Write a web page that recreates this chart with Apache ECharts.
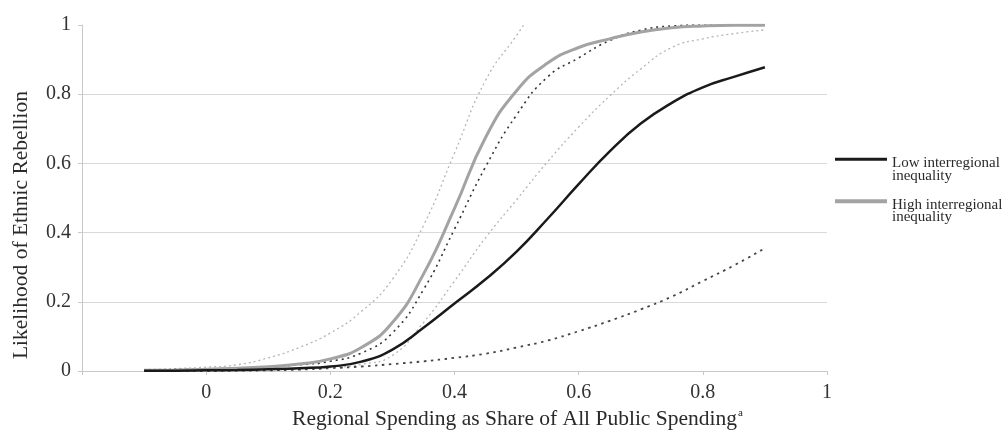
<!DOCTYPE html>
<html>
<head>
<meta charset="utf-8">
<script src="https://cdn.jsdelivr.net/npm/echarts@6/dist/echarts.min.js"></script>
<style>
html,body{margin:0;padding:0;background:#fff;}
#chart{width:1008px;height:435px;}
</style>
</head>
<body>
<div id="chart"></div>
<script>
// Regional spending share (x values)
var xs = [-0.1, -0.05, 0, 0.05, 0.1, 0.15, 0.2, 0.25, 0.3, 0.35, 0.4, 0.45, 0.5, 0.55, 0.6, 0.65, 0.7, 0.75, 0.8, 0.85, 0.9];
// Low interregional inequality: estimate and CI bounds
var lowEst   = [0.001, 0.001, 0.002, 0.003, 0.005, 0.008, 0.013, 0.027, 0.062, 0.125, 0.195, 0.265, 0.345, 0.44, 0.54, 0.635, 0.715, 0.775, 0.82, 0.85, 0.878];
var lowUpper = [0.003, 0.004, 0.006, 0.008, 0.012, 0.018, 0.028, 0.052, 0.11, 0.235, 0.41, 0.59, 0.74, 0.85, 0.905, 0.955, 0.985, 0.997, 1.0, 1.0, 1.0];
var lowLower = [0.0, 0.0, 0.0, 0.001, 0.002, 0.004, 0.008, 0.013, 0.02, 0.028, 0.038, 0.05, 0.068, 0.088, 0.115, 0.145, 0.178, 0.215, 0.26, 0.305, 0.355];
// High interregional inequality: estimate and CI bounds
var highEst   = [0.002, 0.003, 0.005, 0.008, 0.012, 0.02, 0.035, 0.068, 0.14, 0.28, 0.47, 0.675, 0.81, 0.89, 0.935, 0.96, 0.98, 0.992, 0.997, 0.999, 0.999];
var highUpper = [0.004, 0.007, 0.011, 0.018, 0.038, 0.068, 0.11, 0.172, 0.265, 0.42, 0.63, 0.84, 0.97, 1.1, null, null, null, null, null, null, null];
var highLower = [0.0, 0.0, 0.001, 0.002, 0.004, 0.006, 0.01, 0.019, 0.045, 0.14, 0.26, 0.385, 0.495, 0.605, 0.705, 0.795, 0.873, 0.935, 0.96, 0.975, 0.986];
// Axis ticks
var xTicks = { min: -0.2, max: 1, interval: 0.2 };
var yTicks = { min: 0, max: 1, interval: 0.2 };
var legendNames = ['Low interregional\ninequality', 'High interregional\ninequality'];

function pairs(ys) {
  var out = [];
  for (var i = 0; i < xs.length; i++) {
    if (ys[i] !== null) out.push([xs[i], ys[i]]);
  }
  return out;
}

var serif = '"Liberation Serif", "DejaVu Serif", serif';
var grid = '#d9d9d9';
var chart = echarts.init(document.getElementById('chart'));
chart.setOption({
  animation: false,
  backgroundColor: '#fff',
  grid: { left: 82, right: 181, top: 25, bottom: 64, containLabel: false },
  legend: {
    data: [
      { name: legendNames[0], icon: 'path://M0,0L52,0L52,3L0,3Z M0,24L0.01,24' },
      { name: legendNames[1], icon: 'path://M0,0L52,0L52,4L0,4Z M0,24L0.01,24' }
    ],
    orient: 'vertical',
    left: 830,
    top: 151,
    itemWidth: 52,
    itemHeight: 24,
    itemGap: 14,
    textStyle: { fontFamily: serif, fontSize: 15, lineHeight: 12.5, color: '#2a2a2a' },
    selectedMode: false
  },
  xAxis: {
    type: 'value',
    min: xTicks.min, max: xTicks.max, interval: xTicks.interval,
    name: 'Regional Spending as Share of All Public Spending{sup|a}',
    nameLocation: 'middle',
    nameGap: 27,
    nameTextStyle: {
      fontFamily: serif, fontSize: 21.5, color: '#2a2a2a', padding: [0, 0, 0, 126],
      rich: { sup: { fontFamily: serif, fontSize: 11, verticalAlign: 'top', padding: [0, 0, 9, 1], color: '#2a2a2a' } }
    },
    axisLine: { show: true, lineStyle: { color: '#c8c8c8', width: 1 } },
    axisTick: { show: true, length: 4, lineStyle: { color: '#c8c8c8' } },
    splitLine: { show: false },
    axisLabel: {
      fontFamily: serif, fontSize: 20, color: '#333', margin: 12,
      formatter: function (v) { return v < -0.05 ? '' : String(+v.toFixed(1)); }
    }
  },
  yAxis: {
    type: 'value',
    min: yTicks.min, max: yTicks.max, interval: yTicks.interval,
    name: 'Likelihood of Ethnic Rebellion',
    nameLocation: 'middle',
    nameGap: 50,
    nameTextStyle: { fontFamily: serif, fontSize: 21.5, color: '#2a2a2a', padding: [0, 54, 0, 0] },
    axisLine: { show: true, onZero: false, lineStyle: { color: '#c8c8c8', width: 1 } },
    axisTick: { show: true, length: 4, lineStyle: { color: '#c8c8c8' } },
    splitLine: { show: true, lineStyle: { color: [grid, grid, grid, grid, grid, 'rgba(0,0,0,0)'], width: 1 } },
    axisLabel: {
      fontFamily: serif, fontSize: 20, color: '#333', margin: 11,
      formatter: function (v) { return String(+v.toFixed(1)); }
    }
  },
  series: [
    { name: 'High upper', type: 'line', data: pairs(highUpper), smooth: true, symbol: 'none', clip: true,
      lineStyle: { color: '#b5b5b5', width: 1.3, type: [2, 3] }, z: 1 },
    { name: 'High lower', type: 'line', data: pairs(highLower), smooth: true, symbol: 'none',
      lineStyle: { color: '#b5b5b5', width: 1.3, type: [2, 3] }, z: 1 },
    { name: 'Low upper', type: 'line', data: pairs(lowUpper), smooth: true, symbol: 'none',
      lineStyle: { color: '#333', width: 1.6, type: [2, 4] }, z: 2 },
    { name: 'Low lower', type: 'line', data: pairs(lowLower), smooth: true, symbol: 'none',
      lineStyle: { color: '#444', width: 1.8, type: [2.5, 4.5] }, z: 2 },
    { name: legendNames[1], type: 'line', data: pairs(highEst), smooth: true, symbol: 'none',
      color: '#a3a3a3', lineStyle: { color: '#a3a3a3', width: 3 }, z: 3 },
    { name: legendNames[0], type: 'line', data: pairs(lowEst), smooth: true, symbol: 'none',
      color: '#1a1a1a', lineStyle: { color: '#1a1a1a', width: 2.5 }, z: 4 }
  ]
});
</script>
</body>
</html>
